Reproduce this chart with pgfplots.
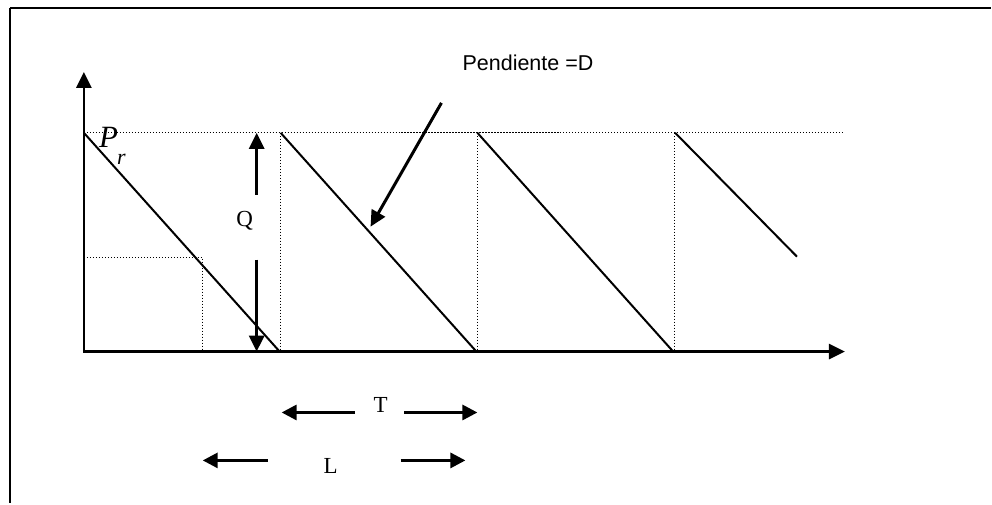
\documentclass[border=0pt]{standalone}
\usepackage{pgfplots}
\pgfplotsset{compat=1.18}
\usetikzlibrary{arrows.meta}
\usepackage{fontspec}
\setmainfont{Liberation Serif}
\newfontfamily\arial{Liberation Sans}
\begin{document}
\begin{tikzpicture}
\begin{axis}[
  scale only axis, width=992pt, height=504pt,
  xmin=0, xmax=992, ymin=0, ymax=504, y dir=reverse,
  hide axis, clip=false,
  every axis plot/.append style={no markers},
]
% invisible corners
\addplot[draw=none] coordinates {(0,0) (992,504)};
% frame
\addplot[black, line width=2.5pt] coordinates {(10,8) (992,8)};
\addplot[black, line width=2pt] coordinates {(10,8) (10,504)};
% axes
\addplot[black, line width=2.6pt, -{Triangle[length=16pt,width=15pt]}] coordinates {(84,352) (84,72)};
\addplot[black, line width=2.6pt, -{Triangle[length=16pt,width=15pt]}] coordinates {(83,352) (846,352)};
% dotted lines
\addplot[black, line width=1.3pt, dash pattern=on 1.2pt off 1.8pt] coordinates {(84,133) (845,133)};
\addplot[black, line width=1.3pt, dash pattern=on 1.2pt off 1.8pt] coordinates {(281,133) (281,352)};
\addplot[black, line width=1.3pt, dash pattern=on 1.2pt off 1.8pt] coordinates {(478,133) (478,352)};
\addplot[black, line width=1.3pt, dash pattern=on 1.2pt off 1.8pt] coordinates {(675,133) (675,352)};
\addplot[black, line width=1.3pt, dash pattern=on 1.2pt off 1.8pt] coordinates {(84,258) (203,258) (203,352)};
% sawtooth
\addplot[black, line width=2pt] coordinates {(84,133) (280,352)};
\addplot[black, line width=2pt] coordinates {(281,133) (477,352)};
\addplot[black, line width=2pt] coordinates {(478,133) (674,352)};
\addplot[black, line width=2pt] coordinates {(676,133) (798,257)};
% Q arrows
\addplot[black, line width=3pt, -{Triangle[length=16pt,width=15pt]}] coordinates {(257,195) (257,133)};
\addplot[black, line width=3pt, -{Triangle[length=16pt,width=15pt]}] coordinates {(257,260) (257,352)};
% slope arrow
\addplot[black, line width=3pt, -{Triangle[length=16pt,width=15pt]}] coordinates {(442,103) (371,227)};
% T arrows
\addplot[black, line width=3pt, -{Triangle[length=15pt,width=15pt]}] coordinates {(355,413) (282,413)};
\addplot[black, line width=3pt, -{Triangle[length=15pt,width=15pt]}] coordinates {(405,413) (478,413)};
% L arrows
\addplot[black, line width=3pt, -{Triangle[length=15pt,width=15pt]}] coordinates {(268,461) (203,461)};
\addplot[black, line width=3pt, -{Triangle[length=15pt,width=15pt]}] coordinates {(401,461) (466,461)};
% labels
\node[anchor=base west, inner sep=0pt, font=\arial\fontsize{21.5}{24}\selectfont] at (axis cs:463,71) {Pendiente =D};
\node[anchor=base, inner sep=0pt, font=\fontsize{23}{26}\selectfont] at (axis cs:245,227) {Q};
\node[anchor=base, inner sep=0pt, font=\fontsize{23}{26}\selectfont] at (axis cs:381,413) {T};
\node[anchor=base, inner sep=0pt, font=\fontsize{23}{26}\selectfont] at (axis cs:331,474) {L};
\node[anchor=base west, inner sep=0pt, font=\fontsize{31}{33}\selectfont\itshape] at (axis cs:99,148) {P};
\node[anchor=base west, inner sep=0pt, font=\fontsize{22}{24}\selectfont\itshape] at (axis cs:117,165) {r};
\end{axis}
\end{tikzpicture}
\end{document}
